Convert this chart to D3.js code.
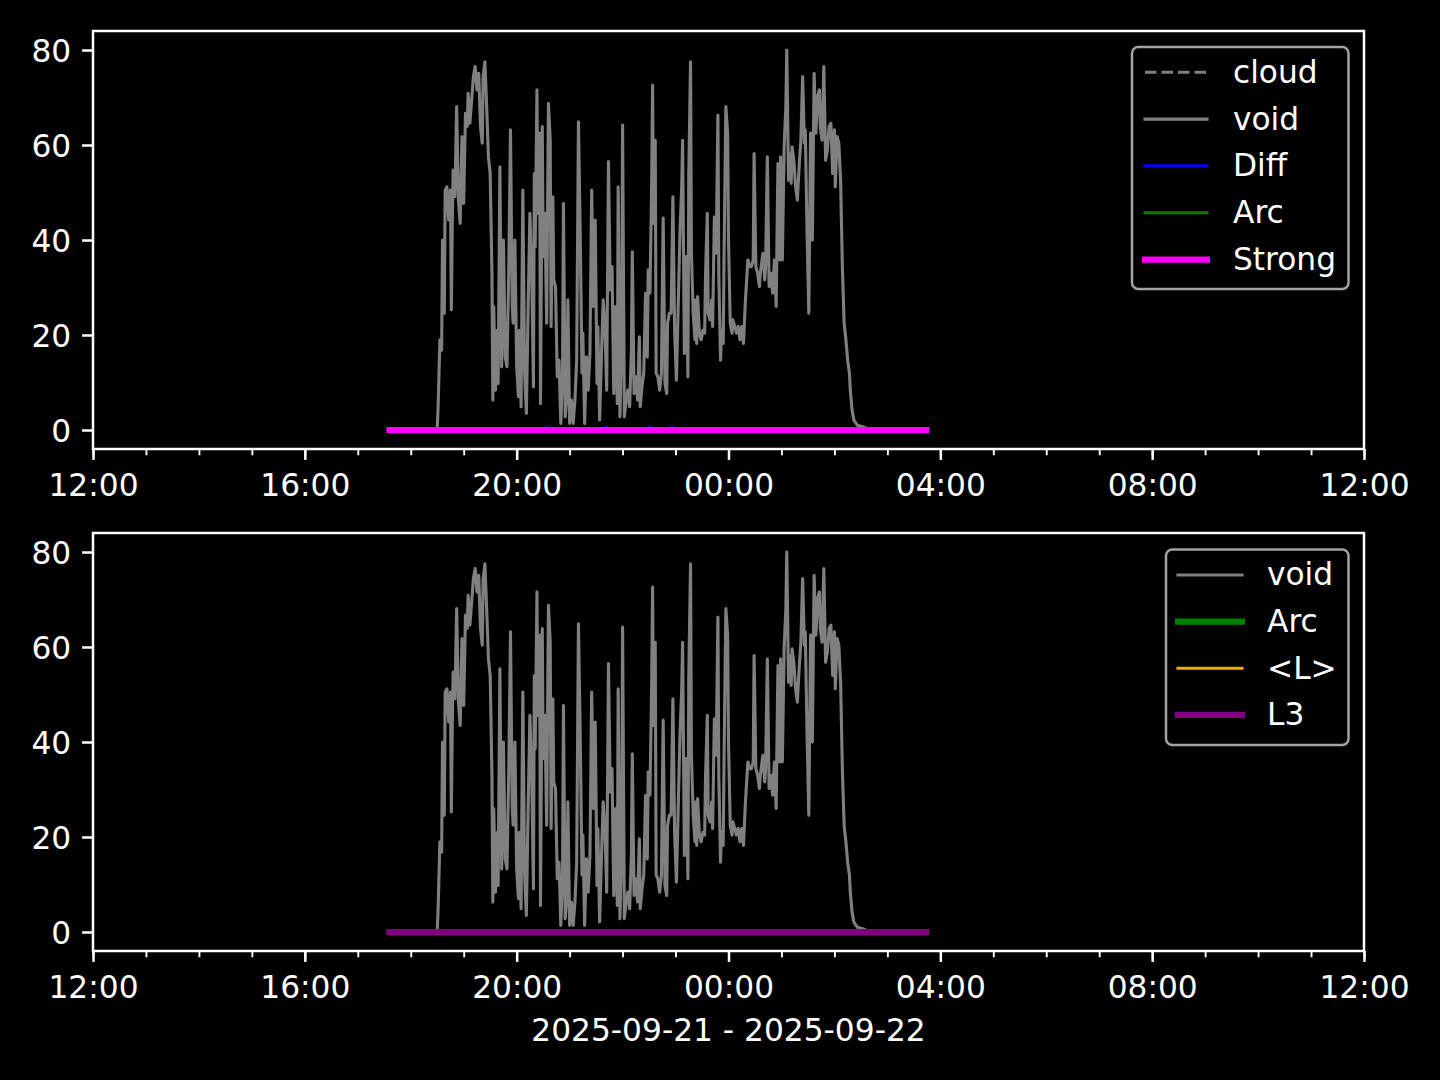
<!DOCTYPE html>
<html><head><meta charset="utf-8">
<script src="https://cdn.jsdelivr.net/npm/d3@7"></script>
<style>body{margin:0;background:#000;} svg{display:block;}</style>
</head><body><svg id="c" width="1440" height="1080"></svg>
<script>
// ---------- data ----------
const voidData = [
["17:36",0],["18:28",0],["18:30",0.3],["18:31",4.9],["18:33",19],["18:35",16.8],["18:36",40],["18:38",24.6],["18:39",50.5],["18:41",51.2],["18:43",44.2],["18:45",50.5],["18:46",25.3],["18:47",42.8],["18:48",54.7],["18:50",49.1],["18:52",68.1],["18:54",48.4],["18:56",43.5],["18:58",61.8],["19:00",47.7],["19:02",66.7],["19:04",63.9],["19:05",70.9],["19:07",64.6],["19:09",69.5],["19:11",74.4],["19:13",76.5],["19:15",71.6],["19:17",75.1],["19:19",63.9],["19:21",60.4],["19:22",74.4],["19:24",77.5],["19:26",68.1],["19:28",57.5],["19:30",54],["19:32",33],["19:33",6.3],["19:34",26],["19:36",8.4],["19:38",21],["19:39",9.8],["19:41",55.4],["19:43",13.3],["19:45",40],["19:47",15.4],["19:49",13.3],["19:51",33],["19:53",63.2],["19:55",26],["19:56",22.5],["19:58",40],["20:00",13.3],["20:02",7],["20:03",21],
["20:05",4.9],["20:07",50.5],["20:09",12],["20:11",3.5],["20:13",26],["20:15",45.6],["20:17",33],["20:19",9.1],["20:20",54],["20:21",38.6],["20:23",71.6],["20:24",45.6],["20:26",62.5],["20:27",5.6],["20:29",63.9],["20:30",36.5],["20:32",45.6],["20:34",22.5],["20:36",68.8],["20:38",61],["20:39",21.8],["20:41",49.1],["20:42",31.6],["20:44",30.2],["20:46",11.2],["20:48",14.7],["20:50",1.4],["20:52",12],["20:53",47.7],["20:55",2.8],["20:57",7.7],["20:58",27.4],["21:00",1.4],["21:02",6.3],["21:04",1.4],["21:06",6.3],["21:08",14.7],["21:10",64.9],["21:12",41.4],["21:14",12],["21:15",20.4],["21:17",1.4],["21:19",15.4],["21:21",8.4],["21:23",16.1],["21:25",50.5],["21:27",26],["21:29",44.2],["21:31",9.8],["21:32",21.8],["21:34",2.1],["21:36",15.4],["21:38",27.4],["21:40",21.8],["21:42",8.4],["21:44",56.5],
["21:46",29.5],["21:48",34.4],["21:50",7.7],["21:52",26],["21:54",5.6],["21:55",51.2],["21:57",2.8],["21:59",19],["22:00",64.2],["22:02",2.8],["22:04",6.3],["22:06",8.4],["22:08",4.9],["22:10",16.8],["22:11",37.5],["22:13",7.7],["22:15",11.2],["22:17",6.3],["22:19",19.6],["22:20",4.9],["22:22",9.1],["22:24",12],["22:26",28.8],["22:28",15.4],["22:29",33.7],["22:31",28.8],["22:33",52.6],["22:34",72.6],["22:35",43.5],["22:37",61],["22:38",12],["22:40",11.2],["22:42",8.4],["22:44",12],["22:46",44.6],["22:48",9.8],["22:50",7.7],["22:51",22.5],["22:53",24.6],["22:55",24.6],["22:57",49.1],["22:59",20.4],["23:01",10.5],["23:03",26],["23:05",41.4],["23:07",51.2],["23:08",61],["23:10",16.1],["23:12",36.5],["23:14",11.2],["23:15",54],["23:17",77.5],["23:18",37.2],["23:20",24.6],["23:22",19],["23:23",27.4],
["23:24",18.2],["23:25",28.1],["23:27",20.4],["23:29",19],["23:31",21],["23:33",20.4],["23:34",33],["23:36",45.6],["23:37",24.6],["23:39",23.2],["23:41",27.4],["23:42",21.8],["23:44",44.9],["23:46",37.2],["23:48",66.3],["23:49",33],["23:51",14.7],["23:52",21],["23:54",18.2],["23:55",37.2],["23:57",68.1],["23:59",62.5],["00:00",40],["00:02",22.5],["00:04",20.4],["00:05",23.2],["00:07",21.8],["00:09",20.4],["00:11",21.8],["00:13",19],["00:15",21.8],["00:17",18.2],["00:19",26.7],["00:21",33],["00:22",35.8],["00:24",34.4],["00:26",34.4],["00:28",35.8],["00:29",58.2],["00:31",34.4],["00:33",33],["00:35",30.2],["00:36",33],["00:39",37.2],["00:41",31.6],["00:42",34.4],["00:44",57.5],["00:46",30.2],["00:48",33],["00:50",28.8],["00:52",35.8],["00:54",26],["00:56",56.1],["00:58",35.8],["00:59",57.5],
["01:01",35.8],["01:03",59.6],["01:05",68.1],["01:06",80],["01:08",52.6],["01:09",58.2],["01:11",51.9],["01:12",59.6],["01:14",56.8],["01:16",51.2],["01:18",48.4],["01:20",55.4],["01:22",61],["01:24",74.4],["01:26",60.4],["01:27",63.2],["01:29",41.4],["01:31",24.6],["01:33",62.5],["01:35",40],["01:37",75.1],["01:39",62.5],["01:41",70.2],["01:43",71.6],["01:44",63.9],["01:46",61],["01:48",76.5],["01:50",56.8],["01:52",58.9],["01:54",63.9],["01:56",64.6],["01:58",54],["02:00",63.2],["02:01",51.2],["02:03",61.8],["02:05",60.4],["02:07",52.6],["02:09",34.4],["02:11",22.5],["02:13",19],["02:15",14.7],["02:17",12],["02:18",8.4],["02:20",4.2],["02:22",2.1],["02:26",1],["02:32",0.7],["02:35",0.5],["02:36",0],["03:44",0]
];
const flatTimes = ["17:36","03:44"];
const cloudValues = [0,0];
const arcValues = [0,0];
const strongValues = [0,0];
const meanLValues = [0,0];
const l3Values = [0,0];
const diffData = [["17:36",0],["20:33",0],["20:34",0.6],["20:35",0],["21:41",0],["21:42",0.6],["21:43",0],["22:30",0],["22:31",0.6],["22:32",0],["22:55",0],["22:56",0.6],["22:57",0],["03:44",0]];
const xTickLabels = ["12:00","16:00","20:00","00:00","04:00","08:00","12:00"];
const yTicks = [0,20,40,60,80];
const xAxisLabel = "2025-09-21 - 2025-09-22";
const topLegendNames = ["cloud","void","Diff","Arc","Strong"];
const bottomLegendNames = ["void","Arc","<L>","L3"];

// ---------- drawing ----------
const svg = d3.select("#c");
svg.append("rect").attr("width",1440).attr("height",1080).attr("fill","#000");
const FONT = "'DejaVu Sans', sans-serif";
const FS = 31.25;
const X0 = 93, X1 = 1364;
const parseT = s => { const [h,m] = s.split(":").map(Number); return new Date(2025, 8, h < 12 ? 22 : 21, h, m); };
const x = d3.scaleTime().domain([new Date(2025,8,21,12,0), new Date(2025,8,22,12,0)]).range([X0, X1]);

const styles = {
  cloud: {color:"#808080", w:3.1, dash:"11.5,5"},
  void: {color:"#808080", w:3.1},
  Diff: {color:"#0000ff", w:3.1},
  ArcThin: {color:"#008000", w:3.1},
  ArcThick: {color:"#008000", w:6.25},
  Strong: {color:"#ff00ff", w:6.25},
  meanL: {color:"#ffa500", w:3.1},
  L3: {color:"#800080", w:6.25}
};

function pairs(times, vals){ return times.map((t,i)=>[t, vals[i]]); }

function panel(top, bottom, series, legend, legendBox, showXLabel){
  const y = d3.scaleLinear().domain([-4, 84]).range([bottom, top]);
  const g = svg.append("g");
  const line = d3.line().x(d => x(parseT(d[0]))).y(d => y(d[1]));
  series.forEach(s => {
    g.append("path").datum(s.data).attr("d", line)
      .attr("fill","none").attr("stroke", s.st.color).attr("stroke-width", s.st.w)
      .attr("stroke-linejoin","round").attr("stroke-linecap", s.st.dash ? "butt" : "square")
      .attr("stroke-dasharray", s.st.dash || null);
  });
  // minor ticks
  const minor = g.append("g").attr("transform",`translate(0,${bottom})`)
    .call(d3.axisBottom(x).ticks(d3.timeHour.every(1)).tickSize(6.25).tickFormat("").tickSizeOuter(0));
  minor.select(".domain").remove();
  minor.selectAll("line").attr("stroke","#fff").attr("stroke-width",1.9);
  // major x
  const ticksX = x.ticks(d3.timeHour.every(4));
  const xa = g.append("g").attr("transform",`translate(0,${bottom})`)
    .call(d3.axisBottom(x).tickValues(ticksX).tickFormat((d,i)=>xTickLabels[i]).tickSize(10.9).tickPadding(10.9).tickSizeOuter(0));
  xa.select(".domain").remove();
  xa.selectAll("line").attr("stroke","#fff").attr("stroke-width",2.5);
  xa.selectAll("text").attr("fill","#fff").attr("font-family",FONT).attr("font-size",FS).attr("dy","0.8em");
  // y
  const ya = g.append("g").attr("transform",`translate(${X0},0)`)
    .call(d3.axisLeft(y).tickValues(yTicks).tickSize(10.9).tickPadding(10.9).tickSizeOuter(0));
  ya.select(".domain").remove();
  ya.selectAll("line").attr("stroke","#fff").attr("stroke-width",2.5);
  ya.selectAll("text").attr("fill","#fff").attr("font-family",FONT).attr("font-size",FS).attr("dy","0.36em");
  // spines
  g.append("rect").attr("x",X0).attr("y",top).attr("width",X1-X0).attr("height",bottom-top)
    .attr("fill","none").attr("stroke","#fff").attr("stroke-width",2.5);
  // legend
  const lg = svg.append("g");
  lg.append("rect").attr("x",legendBox.x0).attr("y",legendBox.y0)
    .attr("width",legendBox.x1-legendBox.x0).attr("height",legendBox.y1-legendBox.y0)
    .attr("rx",6.25).attr("ry",6.25).attr("fill","#000").attr("stroke","#a3a3a3").attr("stroke-width",2.5);
  legend.forEach((it,i) => {
    const ly = legendBox.row0 + i*legendBox.dy;
    lg.append("line").attr("x1",legendBox.hx0).attr("x2",legendBox.hx1).attr("y1",ly).attr("y2",ly)
      .attr("stroke",it.st.color).attr("stroke-width",it.st.w)
      .attr("stroke-linecap", it.st.dash ? "butt" : "square")
      .attr("stroke-dasharray", it.st.dash || null);
    lg.append("text").attr("x",legendBox.tx).attr("y",ly+10.4).text(it.name)
      .attr("fill","#fff").attr("font-family",FONT).attr("font-size",FS);
  });
  if (showXLabel) {
    svg.append("text").attr("x",(X0+X1)/2).attr("y",1041).attr("text-anchor","middle")
      .attr("fill","#fff").attr("font-family",FONT).attr("font-size",FS).text(xAxisLabel);
  }
}

panel(31, 449, [
  {data: pairs(flatTimes, cloudValues), st: styles.cloud},
  {data: voidData, st: styles.void},
  {data: diffData, st: styles.Diff},
  {data: pairs(flatTimes, arcValues), st: styles.ArcThin},
  {data: pairs(flatTimes, strongValues), st: styles.Strong}
], [
  {name: topLegendNames[0], st: styles.cloud},
  {name: topLegendNames[1], st: styles.void},
  {name: topLegendNames[2], st: styles.Diff},
  {name: topLegendNames[3], st: styles.ArcThin},
  {name: topLegendNames[4], st: styles.Strong}
], {x0:1132, x1:1348.5, y0:47, y1:289, row0:72.3, dy:46.8, hx0:1145, hx1:1207, tx:1233}, false);

panel(533, 951, [
  {data: voidData, st: styles.void},
  {data: pairs(flatTimes, arcValues), st: styles.ArcThick},
  {data: pairs(flatTimes, meanLValues), st: styles.meanL},
  {data: pairs(flatTimes, l3Values), st: styles.L3}
], [
  {name: bottomLegendNames[0], st: styles.void},
  {name: bottomLegendNames[1], st: styles.ArcThick},
  {name: bottomLegendNames[2], st: styles.meanL},
  {name: bottomLegendNames[3], st: styles.L3}
], {x0:1166, x1:1348.5, y0:549.5, y1:745, row0:575, dy:46.6, hx0:1178, hx1:1242, tx:1267}, true);
</script>
</body></html>
